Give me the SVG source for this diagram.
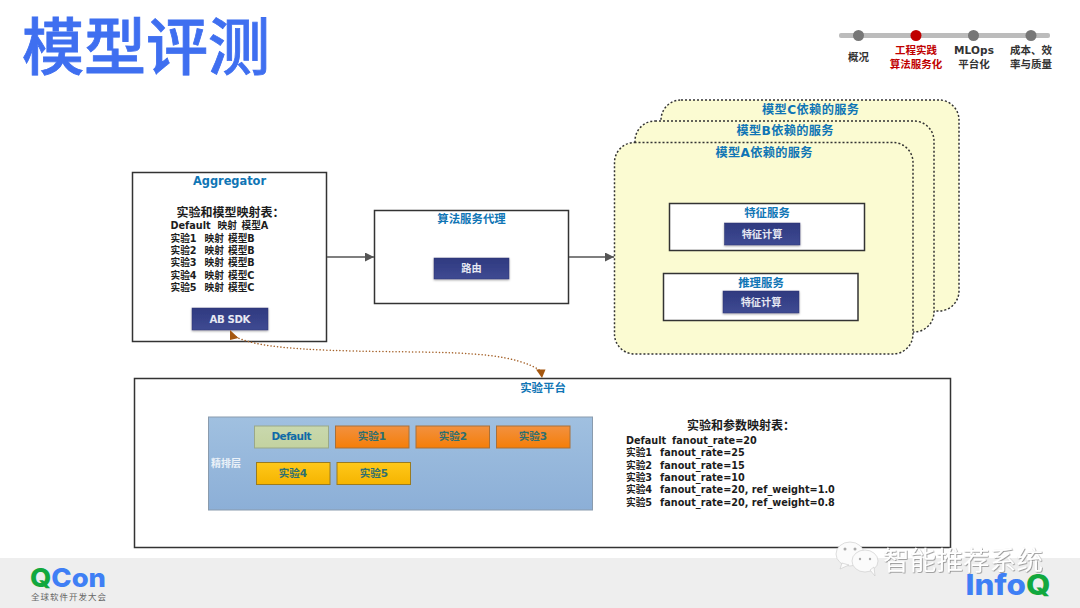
<svg xmlns="http://www.w3.org/2000/svg" width="1080" height="608" viewBox="0 0 1080 608">
  <style>
    text { font-family: "DejaVu Sans", "Noto Sans CJK SC", sans-serif; }
    .box { fill: #fff; stroke: #333; stroke-width: 1.5; }
    .cloud { fill: #fbfbd2; stroke: #333; stroke-width: 1.5; stroke-dasharray: 2 2; }
    .btn { fill: url(#navy); stroke: #2c3470; stroke-width: .5; filter: url(#lift); }
    .btnt { fill: #e6e8f2; font-size: 10.2px; font-weight: 700; text-anchor: middle; }
    .head { fill: #0f75b5; font-size: 11.4px; font-weight: 700; text-anchor: middle; }
    .title2 { fill: #0f75b5; font-size: 12.2px; font-weight: 700; text-anchor: middle; }
    .body { fill: #1c1c1c; font-size: 9.7px; font-weight: 700; }
    .sub { fill: #1c1c1c; font-size: 12px; font-weight: 700; }
    .nav { font-size: 10.5px; font-weight: 700; text-anchor: middle; fill: #333; }
    .hot { fill: #c00000; }
    .orange { fill: url(#orange); stroke: #a8703a; }
    .yellow { fill: url(#yellow); stroke: #9a7b20; }
    .cell { fill: #2f6f70; font-size: 10.5px; font-weight: 700; text-anchor: middle; }
    .link { fill: none; stroke: #555; stroke-width: 1.5; marker-end: url(#arrow); }
    .dot { fill: none; stroke: #a5622a; stroke-width: 1.5; stroke-dasharray: .1 3.2; stroke-linecap: round; }
    .logo { font-family: "Inter", sans-serif; font-weight: 800; }
  </style>
  <defs>
    <linearGradient id="navy" x1="0" y1="0" x2="0" y2="1"><stop offset="0" stop-color="#2f3a80"/><stop offset="1" stop-color="#3f4a92"/></linearGradient>
    <linearGradient id="orange" x1="0" y1="0" x2="0" y2="1"><stop offset="0" stop-color="#f29140"/><stop offset="1" stop-color="#f57e08"/></linearGradient>
    <linearGradient id="yellow" x1="0" y1="0" x2="0" y2="1"><stop offset="0" stop-color="#ffc81a"/><stop offset="1" stop-color="#f5b400"/></linearGradient>
    <linearGradient id="lane" x1="0" y1="0" x2="0" y2="1"><stop offset="0" stop-color="#a0c0e0"/><stop offset="1" stop-color="#8cafd7"/></linearGradient>
    <linearGradient id="sage" x1="0" y1="0" x2="0" y2="1"><stop offset="0" stop-color="#c9d8ad"/><stop offset="1" stop-color="#c3d2a0"/></linearGradient>
    <filter id="lift" x="-10%" y="-10%" width="120%" height="130%"><feDropShadow dx="0" dy="1" stdDeviation=".8" flood-color="#000" flood-opacity=".35"/></filter>
    <filter id="emboss" x="-5%" y="-10%" width="110%" height="120%"><feDropShadow dx=".7" dy=".7" stdDeviation=".3" flood-color="#777" flood-opacity=".9"/></filter>
    <marker id="arrow" viewBox="0 0 10 10" refX="10" refY="5" markerWidth="9" markerHeight="9" markerUnits="userSpaceOnUse" orient="auto"><path d="M0 0L10 5L0 10Z" fill="#555"/></marker>
  </defs>

  <rect width="1080" height="608" fill="#fff"/>
  <rect id="footer-band" y="558" width="1080" height="50" fill="#eeeeee"/>

  <text id="title" x="22" y="70" font-size="62" font-weight="500" fill="#3f6ff0" stroke="#3f6ff0" stroke-width=".8" textLength="248">模型评测</text>

  <g id="progress">
    <rect x="839" y="33" width="211" height="5" rx="2" fill="#bcbcbc"/>
    <circle cx="858.500" cy="35.500" r="5.500" fill="#777"/>
    <circle cx="916" cy="35.500" r="5.500" fill="#c00000"/>
    <circle cx="973.500" cy="35.500" r="5.500" fill="#777"/>
    <circle cx="1031" cy="35.500" r="5.500" fill="#777"/>
    <text class="nav" x="858.500" y="61">概况</text>
    <text class="nav hot" x="916" y="54">工程实践</text>
    <text class="nav hot" x="916" y="68">算法服务化</text>
    <text class="nav" x="974" y="54" textLength="40">MLOps</text>
    <text class="nav" x="974" y="68">平台化</text>
    <text class="nav" x="1031" y="54">成本、效</text>
    <text class="nav" x="1031" y="68">率与质量</text>
  </g>

  <g id="aggregator">
    <rect class="box" x="132.500" y="172.500" width="194" height="169"/>
    <text class="head" x="229.500" y="185" textLength="73">Aggregator</text>
    <text class="sub" x="176.500" y="217">实验和模型映射表：</text>
    <text class="body" y="229"><tspan x="170.500">Default</tspan><tspan x="217.500">映射</tspan><tspan x="241.500">模型A</tspan></text>
    <text class="body" y="241.500"><tspan x="170.500">实验1</tspan><tspan x="204.500">映射</tspan><tspan x="228">模型B</tspan></text>
    <text class="body" y="253.500"><tspan x="170.500">实验2</tspan><tspan x="204.500">映射</tspan><tspan x="228">模型B</tspan></text>
    <text class="body" y="266"><tspan x="170.500">实验3</tspan><tspan x="204.500">映射</tspan><tspan x="228">模型B</tspan></text>
    <text class="body" y="278.500"><tspan x="170.500">实验4</tspan><tspan x="204.500">映射</tspan><tspan x="228">模型C</tspan></text>
    <text class="body" y="291"><tspan x="170.500">实验5</tspan><tspan x="204.500">映射</tspan><tspan x="228">模型C</tspan></text>
    <rect class="btn" x="192" y="308" width="76" height="22"/>
    <text class="btnt" x="230" y="323" textLength="41">AB SDK</text>
  </g>

  <g id="proxy">
    <rect class="box" x="374.500" y="210.500" width="194" height="93"/>
    <text class="head" x="471.500" y="223">算法服务代理</text>
    <rect class="btn" x="434" y="258" width="75" height="21"/>
    <text class="btnt" x="471.500" y="272">路由</text>
  </g>

  <g id="model-c">
    <rect class="cloud" x="661" y="100" width="298" height="211" rx="20"/>
    <text class="title2" x="810.500" y="113.500" textLength="97">模型C依赖的服务</text>
  </g>
  <g id="model-b">
    <rect class="cloud" x="635" y="121" width="299" height="211" rx="20"/>
    <text class="title2" x="785" y="135" textLength="97">模型B依赖的服务</text>
  </g>
  <g id="model-a">
    <rect class="cloud" x="614.500" y="142.500" width="298.500" height="211.500" rx="20"/>
    <text class="title2" x="764" y="157" textLength="97">模型A依赖的服务</text>
    <g id="feature-service">
      <rect class="box" x="669.500" y="203.500" width="195" height="47"/>
      <text class="head" x="767" y="217">特征服务</text>
      <rect class="btn" x="724.500" y="223" width="75.500" height="22"/>
      <text class="btnt" x="762" y="237.500">特征计算</text>
    </g>
    <g id="inference-service">
      <rect class="box" x="663.500" y="273.500" width="194.500" height="47"/>
      <text class="head" x="761" y="287">推理服务</text>
      <rect class="btn" x="723" y="291" width="76" height="22"/>
      <text class="btnt" x="761" y="305.500">特征计算</text>
    </g>
  </g>

  <g id="platform">
    <rect class="box" x="134.500" y="378.500" width="816" height="169"/>
    <text class="head" x="543" y="392">实验平台</text>
    <rect x="208.500" y="417" width="384" height="93" fill="url(#lane)" stroke="#8a9bad"/>
    <text x="211" y="467" font-size="10" font-weight="700" fill="#eaf1f8">精排层</text>
    <rect x="254.500" y="426" width="74" height="22" fill="url(#sage)" stroke="#9aa889"/>
    <text class="cell" x="291.500" y="440" style="fill:#0f6aa8" textLength="40">Default</text>
    <rect class="orange" x="335.500" y="426" width="73.500" height="22"/>
    <text class="cell" x="372" y="440">实验1</text>
    <rect class="orange" x="416" y="426" width="73.500" height="22"/>
    <text class="cell" x="453" y="440">实验2</text>
    <rect class="orange" x="496.500" y="426" width="73.500" height="22"/>
    <text class="cell" x="533" y="440">实验3</text>
    <rect class="yellow" x="256.500" y="462.500" width="73.500" height="22"/>
    <text class="cell" x="293" y="477">实验4</text>
    <rect class="yellow" x="337" y="462.500" width="73.500" height="22"/>
    <text class="cell" x="374" y="477">实验5</text>
    <text class="sub" x="687" y="430">实验和参数映射表：</text>
    <text class="body" y="444"><tspan x="626">Default</tspan><tspan x="672">fanout_rate=20</tspan></text>
    <text class="body" y="456"><tspan x="626">实验1</tspan><tspan x="660">fanout_rate=25</tspan></text>
    <text class="body" y="468.500"><tspan x="626">实验2</tspan><tspan x="660">fanout_rate=15</tspan></text>
    <text class="body" y="481"><tspan x="626">实验3</tspan><tspan x="660">fanout_rate=10</tspan></text>
    <text class="body" y="493"><tspan x="626">实验4</tspan><tspan x="660">fanout_rate=20, ref_weight=1.0</tspan></text>
    <text class="body" y="505.500"><tspan x="626">实验5</tspan><tspan x="660">fanout_rate=20, ref_weight=0.8</tspan></text>
  </g>

  <g id="connectors">
    <path class="link" d="M327 257H374"/>
    <path class="link" d="M569 257H614"/>
    <path class="dot" d="M236 337C262 350 330 351 420 352C470 353 515 354 541 371"/>
    <path d="M230 330L238.500 338L230 340Z" fill="#a5570f"/>
    <path d="M536 369.500L545.500 369.500L542 378Z" fill="#a5570f"/>
  </g>

  <g id="qcon">
    <text class="logo" x="30" y="587" font-size="26" textLength="76" lengthAdjust="spacingAndGlyphs"><tspan fill="#12a83e">Q</tspan><tspan fill="#3f7ff5">Con</tspan></text>
    <text x="31" y="600" font-size="8.500" fill="#666" textLength="75">全球软件开发大会</text>
  </g>

  <g id="infoq">
    <text class="logo" x="965.500" y="595" font-size="28" textLength="85" lengthAdjust="spacingAndGlyphs"><tspan fill="#3f7ff5">Info</tspan><tspan fill="#12a83e">Q</tspan></text>
  </g>

  <g id="watermark">
    <g fill="#fbfbfb" stroke="#c8c8c8" stroke-width=".6">
      <ellipse cx="850" cy="554" rx="14" ry="12"/>
      <path d="M842 563L840 569L849 565Z"/>
      <ellipse cx="865" cy="561" rx="13" ry="11"/>
      <path d="M870 570L875 576L874 567Z"/>
    </g>
    <g fill="#aaa">
      <circle cx="845" cy="549" r="1.500"/><circle cx="855" cy="549" r="1.500"/>
      <circle cx="860" cy="559" r="1.200"/><circle cx="870" cy="559" r="1.200"/>
    </g>
    <text x="883" y="570" font-size="26.500" font-weight="400" fill="#fff" filter="url(#emboss)" textLength="160">智能推荐系统</text>
  </g>
</svg>
